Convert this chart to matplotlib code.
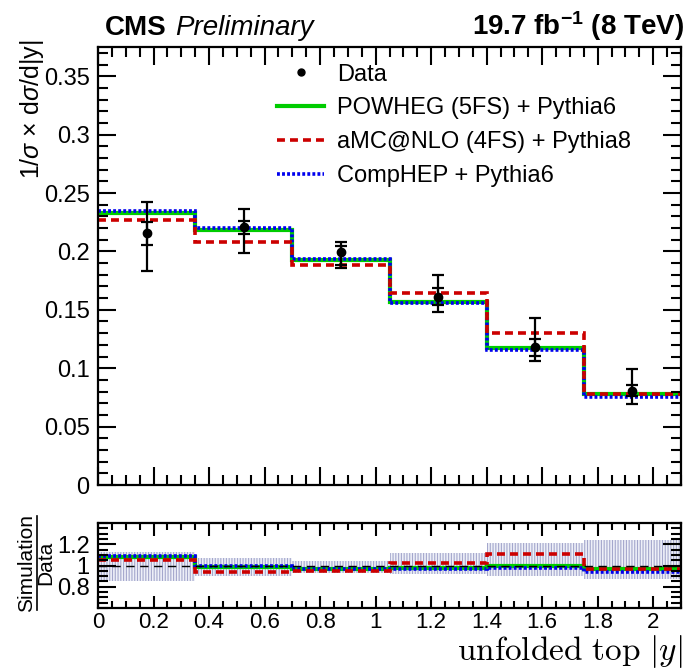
"""Normalised differential cross section vs unfolded top |y| with ratio panel."""

import matplotlib

matplotlib.use("Agg")
import matplotlib.pyplot as plt  # noqa: E402
from matplotlib.lines import Line2D  # noqa: E402
from matplotlib.ticker import MultipleLocator  # noqa: E402
import numpy as np  # noqa: E402

plt.rcParams["font.family"] = ["Liberation Sans", "DejaVu Sans"]
plt.rcParams["mathtext.fontset"] = "custom"
plt.rcParams["mathtext.rm"] = "Liberation Sans"
plt.rcParams["mathtext.it"] = "Liberation Sans:italic"
plt.rcParams["mathtext.bf"] = "Liberation Sans:bold"
plt.rcParams["hatch.linewidth"] = 0.8

# ---- data ----
bin_edges = [0.0, 0.35, 0.70, 1.05, 1.40, 1.75, 2.10]
data_vals = [0.2154, 0.2211, 0.1992, 0.1613, 0.1180, 0.0802]
data_tot_up = [0.0266, 0.0148, 0.0085, 0.0183, 0.0246, 0.0191]
data_tot_dn = [0.0319, 0.0225, 0.0134, 0.0133, 0.0121, 0.0105]
data_stat_up = [0.0094, 0.0045, 0.0057, 0.0072, 0.0074, 0.0054]
data_stat_dn = [0.0099, 0.0062, 0.0105, 0.0073, 0.0079, 0.0042]

powheg_vals = [0.2328, 0.2183, 0.1927, 0.1568, 0.1170, 0.0777]
amcnlo_vals = [0.2268, 0.2077, 0.1884, 0.1645, 0.1304, 0.0777]
comphep_vals = [0.2348, 0.2203, 0.1935, 0.1562, 0.1152, 0.0754]

labels = ["Data", "POWHEG (5FS) + Pythia6", "aMC@NLO (4FS) + Pythia8", "CompHEP + Pythia6"]

edges = np.array(bin_edges)
centers = 0.5 * (edges[:-1] + edges[1:])
data = np.array(data_vals)

W, H = 693, 672
fig = plt.figure(figsize=(W / 100, H / 100), dpi=100)


def px_axes(left, top, right, bottom):
    return fig.add_axes([left / W, 1 - bottom / H, (right - left) / W, (bottom - top) / H])


ax = px_axes(98, 47, 681, 485)
rax = px_axes(98, 523, 681, 608)

styles = {
    "powheg": dict(color="#00cc00", lw=3.0, ls="-"),
    "comphep": dict(color="#0000ee", lw=2.6, ls=(0, (0.8, 0.6))),
    "amcnlo": dict(color="#cc0000", lw=2.6, ls=(0, (2.2, 1.4))),
}
series = {"powheg": powheg_vals, "comphep": comphep_vals, "amcnlo": amcnlo_vals}

for key in ["powheg", "comphep", "amcnlo"]:
    ax.stairs(series[key], edges, baseline=None, **styles[key])
    rax.stairs(np.array(series[key]) / data, edges, baseline=None, **styles[key])

ax.errorbar(centers, data, yerr=[data_tot_dn, data_tot_up], fmt="none",
            ecolor="black", elinewidth=1.6, capsize=4, capthick=1.6, zorder=5)
ax.errorbar(centers, data, yerr=[data_stat_dn, data_stat_up], fmt="o",
            color="black", ms=6, elinewidth=1.6, capsize=4, capthick=1.6, zorder=6)

# ratio panel: data uncertainty band
rel_up = 1 + np.array(data_tot_up) / data
rel_dn = 1 - np.array(data_tot_dn) / data
rax.fill_between(edges, np.append(rel_dn, rel_dn[-1]), np.append(rel_up, rel_up[-1]),
                 step="post", facecolor="#eef0f8", edgecolor="#a4a7cc",
                 hatch="||||||", lw=0, zorder=0)
rax.axhline(1.0, color="black", lw=1.0, ls=(0, (6, 4)), zorder=1)

# axes cosmetics
ax.set_xlim(0, 2.1)
ax.set_ylim(0, 0.375)
rax.set_xlim(0, 2.1)
rax.set_ylim(0.6, 1.4)

for a in (ax, rax):
    for s in a.spines.values():
        s.set_linewidth(1.6)
    a.xaxis.set_major_locator(MultipleLocator(0.2))
    a.xaxis.set_minor_locator(MultipleLocator(0.05))
    a.tick_params(which="both", direction="in", top=True, right=True,
                  width=1.5, labelsize=17, pad=6)

ax.yaxis.set_major_locator(MultipleLocator(0.05))
ax.yaxis.set_minor_locator(MultipleLocator(0.01))
ax.tick_params(which="major", length=13)
ax.tick_params(which="minor", length=7)
ax.tick_params(axis="x", labelbottom=False)
ax.set_yticks([0, 0.05, 0.1, 0.15, 0.2, 0.25, 0.3, 0.35])
ax.set_yticklabels(["0", "0.05", "0.1", "0.15", "0.2", "0.25", "0.3", "0.35"])

rax.set_yticks([0.8, 1.0, 1.2])
rax.set_yticklabels(["0.8", "1", "1.2"])
rax.yaxis.set_minor_locator(MultipleLocator(0.05))
rax.tick_params(axis="y", which="major", length=13)
rax.tick_params(axis="y", which="minor", length=7)
rax.tick_params(axis="x", which="major", length=9, pad=3, labelsize=16)
rax.tick_params(axis="x", which="minor", length=5)
rax.set_xticks([0, 0.2, 0.4, 0.6, 0.8, 1.0, 1.2, 1.4, 1.6, 1.8, 2.0])
rax.set_xticklabels(["0", "0.2", "0.4", "0.6", "0.8", "1", "1.2", "1.4", "1.6", "1.8", "2"])

# legend
handles = [
    Line2D([], [], marker="o", color="black", ls="none", ms=5),
    Line2D([], [], **styles["powheg"]),
    Line2D([], [], **styles["amcnlo"]),
    Line2D([], [], **styles["comphep"]),
]
ax.legend(handles, labels, loc="upper left", bbox_to_anchor=(0.307, 0.962),
          frameon=False, fontsize=17, handlelength=2.0, handletextpad=0.55,
          labelspacing=0.5, borderpad=0, borderaxespad=0)

# axis titles
fig.text(32 / W, 1 - 40 / H, r"1/$\sigma$ $\times$ d$\sigma$/d|y|", rotation=90,
         ha="center", va="top", fontsize=18)
fig.text(27 / W, 1 - 563 / H, "Simulation", rotation=90, ha="center", va="center", fontsize=15)
fig.text(46 / W, 1 - 563 / H, "Data", rotation=90, ha="center", va="center", fontsize=15)
fig.add_artist(Line2D([36.5 / W, 36.5 / W], [1 - 610 / H, 1 - 516 / H], color="black", lw=1.2))
fig.text(682 / W, 1 - 660 / H, r"$\mathrm{unfolded\ top\ }|y|$", ha="right",
         va="baseline", fontsize=24, math_fontfamily="cm")

fig.text(105 / W, 1 - 35 / H, "CMS", ha="left", va="baseline", fontsize=20, weight="bold")
fig.text(175 / W, 1 - 35 / H, "Preliminary", ha="left", va="baseline", fontsize=20, style="italic")
fig.text(684 / W, 1 - 35 / H, r"19.7 fb$^{\mathbf{-1}}$ (8 TeV)", ha="right",
         va="baseline", fontsize=20, weight="bold")

fig.savefig("out.png", dpi=100)
